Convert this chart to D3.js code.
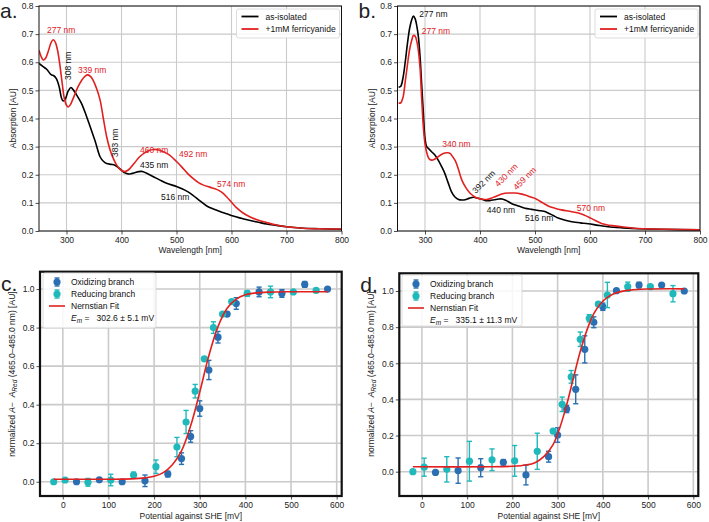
<!DOCTYPE html>
<html>
<head>
<meta charset="utf-8">
<script src="https://cdn.jsdelivr.net/npm/d3@7"></script>
<style>
  body { margin: 0; background: #fff; }
  svg { font-family: "Liberation Sans", Arial, sans-serif; }
  svg text { white-space: pre; }
  .tick text { font-size: 8.5px; fill: #222; }
</style>
</head>
<body>
<div id="chart"></div>
<script>
// ---- spectra (wavelength nm, absorption AU) ----
var specA_isolated = [[250,0.596],[257,0.585],[264,0.575],[272,0.556],[277,0.552],[282,0.54],[287,0.51],[291,0.472],[294,0.462],[298,0.47],[303,0.497],[308,0.51],[313,0.5],[318,0.485],[327,0.455],[336,0.41],[344,0.365],[352,0.32],[361,0.264],[367,0.248],[373,0.24],[381,0.237],[388,0.234],[395,0.224],[400,0.216],[406,0.207],[412,0.203],[418,0.204],[424,0.207],[431,0.211],[437,0.212],[445,0.206],[458,0.193],[470,0.181],[482,0.17],[500,0.158],[510,0.15],[521,0.139],[530,0.127],[542,0.108],[555,0.089],[567,0.078],[579,0.069],[591,0.061],[603,0.053],[618,0.045],[634,0.037],[649,0.031],[664,0.025],[682,0.02],[700,0.015],[730,0.01],[760,0.008],[800,0.006]];
var specA_ferri = [[250,0.643],[254,0.62],[258,0.608],[262,0.614],[267,0.64],[272,0.67],[276,0.68],[280,0.67],[284,0.64],[288,0.59],[292,0.528],[296,0.472],[300,0.447],[303,0.441],[307,0.449],[311,0.466],[316,0.49],[321,0.513],[328,0.537],[334,0.551],[339,0.555],[344,0.549],[348,0.537],[355,0.505],[361,0.466],[367,0.4],[373,0.335],[379,0.29],[385,0.258],[391,0.235],[397,0.22],[402,0.213],[406,0.211],[410,0.214],[415,0.222],[424,0.243],[433,0.264],[442,0.278],[450,0.286],[458,0.29],[466,0.289],[476,0.282],[484,0.274],[491,0.264],[500,0.247],[509,0.229],[520,0.205],[530,0.187],[540,0.172],[548,0.164],[560,0.156],[573,0.148],[582,0.138],[591,0.122],[600,0.102],[609,0.083],[621,0.064],[633,0.051],[648,0.039],[664,0.03],[680,0.022],[700,0.015],[730,0.01],[760,0.008],[800,0.007]];
var specB_isolated = [[252,0.511],[256,0.515],[260,0.545],[264,0.6],[268,0.665],[272,0.72],[276,0.752],[279,0.764],[282,0.755],[285,0.73],[288,0.69],[291,0.62],[294,0.52],[297,0.42],[300,0.33],[303,0.3],[307,0.292],[312,0.282],[318,0.27],[324,0.252],[330,0.23],[336,0.205],[342,0.172],[348,0.14],[354,0.122],[361,0.112],[367,0.11],[373,0.111],[380,0.116],[388,0.12],[395,0.117],[403,0.113],[410,0.108],[418,0.108],[426,0.111],[434,0.114],[440,0.114],[448,0.108],[458,0.097],[470,0.089],[482,0.081],[494,0.077],[506,0.073],[516,0.07],[524,0.064],[533,0.055],[542,0.046],[555,0.038],[567,0.033],[582,0.029],[597,0.026],[615,0.02],[633,0.015],[660,0.011],[688,0.008],[730,0.006],[800,0.004]];
var specB_ferri = [[252,0.455],[256,0.456],[260,0.475],[264,0.53],[268,0.59],[272,0.645],[276,0.679],[279,0.695],[282,0.693],[285,0.675],[288,0.64],[291,0.58],[294,0.47],[297,0.37],[300,0.31],[303,0.28],[307,0.258],[312,0.252],[318,0.256],[324,0.264],[330,0.272],[336,0.277],[341,0.278],[346,0.275],[350,0.265],[355,0.25],[361,0.218],[367,0.181],[374,0.155],[382,0.134],[390,0.122],[397,0.116],[405,0.113],[412,0.112],[420,0.116],[427,0.122],[436,0.129],[445,0.134],[455,0.135],[464,0.135],[474,0.132],[482,0.128],[492,0.121],[503,0.113],[514,0.1],[524,0.089],[536,0.081],[548,0.075],[563,0.07],[579,0.064],[588,0.058],[597,0.05],[609,0.038],[621,0.027],[640,0.019],[658,0.015],[680,0.01],[700,0.008],[740,0.006],[800,0.004]];

// ---- peak annotations [text, wavelength, absorption, colour, rotation] ----
var annotA = [["277 nm",264.5,0.704,"red",0],["308 nm",308,0.537,"black",-90],["339 nm",321,0.562,"red",0],["383 nm",394,0.263,"black",-90],["460 nm",433.6,0.277,"red",0],["492 nm",504.5,0.263,"red",0],["435 nm",433.6,0.224,"black",0],["574 nm",573.6,0.156,"red",0],["516 nm",471.8,0.11,"black",0]];
var annotB = [["277 nm",289.6,0.761,"black",0],["277 nm",294,0.70,"red",0],["340 nm",331.5,0.299,"red",0],["392 nm",392.2,0.132,"black",-45],["430 nm",433.3,0.156,"red",-45],["459 nm",466.7,0.144,"red",-45],["440 nm",412.2,0.064,"black",0],["516 nm",481.8,0.037,"black",0],["570 nm",575.8,0.072,"red",0]];

// ---- redox titrations [potential mV, normalized A, error] ----
var oxC = [[30,0.0,0],[80,0.01,0.008],[130,0.0,0],[180,0.005,0.03],[230,0.04,0.015],[260,0.12,0.03],[280,0.235,0.03],[300,0.38,0.04],[320,0.58,0.05],[340,0.75,0.03],[360,0.87,0.01],[380,0.925,0.03],[430,0.985,0.025],[480,0.977,0.02],[530,1.024,0.015],[580,1.0,0]];
var redC = [[-20,0.0,0],[5,0.009,0.008],[55,-0.003,0.02],[105,0.009,0.03],[155,0.035,0.015],[204,0.078,0.035],[250,0.18,0.05],[270,0.31,0.06],[290,0.47,0.035],[310,0.638,0],[330,0.80,0.03],[350,0.87,0],[370,0.935,0],[404,0.977,0.015],[455,0.985,0.03],[505,0.985,0],[555,0.993,0]];
var fitC = [[-20,0.013],[100,0.013],[150,0.015],[180,0.02],[200,0.028],[220,0.047],[240,0.088],[260,0.16],[280,0.29],[300,0.465],[320,0.655],[340,0.805],[360,0.9],[380,0.948],[400,0.97],[420,0.979],[450,0.984],[500,0.986],[580,0.986]];
var oxD = [[30,-0.004,0],[80,0.006,0.07],[130,0.022,0.05],[180,0.052,0.015],[230,-0.018,0.055],[280,0.083,0.03],[300,0.203,0.04],[320,0.347,0.02],[340,0.456,0.08],[360,0.677,0.075],[380,0.827,0.03],[400,0.913,0.02],[430,1.002,0],[480,1.033,0.015],[530,1.033,0],[580,1.0,0]];
var redD = [[-20,0.0,0],[5,0.025,0.05],[55,0.013,0.07],[105,0.058,0.11],[155,0.066,0.06],[205,0.06,0.085],[255,0.113,0.1],[290,0.225,0],[310,0.373,0.04],[330,0.525,0.035],[350,0.733,0.04],[370,0.849,0.02],[390,0.928,0.01],[410,0.978,0.07],[455,1.024,0.025],[505,1.024,0],[555,0.985,0.045]];
var fitD = [[-20,0.027],[150,0.027],[200,0.03],[230,0.037],[250,0.05],[270,0.085],[290,0.15],[305,0.245],[320,0.37],[335,0.52],[350,0.665],[365,0.785],[380,0.875],[395,0.93],[410,0.965],[430,0.99],[460,1.005],[500,1.011],[580,1.012]];

var specTicksX = [300,400,500,600,700,800];
var specTicksY = [0,0.1,0.2,0.3,0.4,0.5,0.6,0.7,0.8];
var titTicksX = [0,100,200,300,400,500,600];
var titTicksY = [0,0.2,0.4,0.6,0.8,1.0];

var RED = "#e0211f", OXC = "#2a6fb2", REDC = "#20b9bb";

var svg = d3.select("#chart").append("svg").attr("width", 709).attr("height", 522);

function gridAndAxes(g, x, y, tx, ty, gw) {
  g.append("g").selectAll("line.gx").data(tx).enter().append("line")
    .attr("x1", d => x(d)).attr("x2", d => x(d))
    .attr("y1", y.range()[0]).attr("y2", y.range()[1])
    .attr("stroke", "#cacaca").attr("stroke-width", gw);
  g.append("g").selectAll("line.gy").data(ty).enter().append("line")
    .attr("x1", x.range()[0]).attr("x2", x.range()[1])
    .attr("y1", d => y(d)).attr("y2", d => y(d))
    .attr("stroke", "#cacaca").attr("stroke-width", gw);

  var ax = g.append("g").attr("transform", "translate(0," + y.range()[0] + ")")
    .call(d3.axisBottom(x).tickValues(tx).tickSize(3.5).tickPadding(2).tickFormat(d3.format("d")));
  var ay = g.append("g").attr("transform", "translate(" + x.range()[0] + ",0)")
    .call(d3.axisLeft(y).tickValues(ty).tickSize(3.5).tickPadding(2).tickFormat(d3.format(".1f")));
  [ax, ay].forEach(function(a) {
    a.select(".domain").remove();
    a.selectAll(".tick line").attr("stroke", "#222").attr("stroke-width", 0.8);
  });
}

function frame(g, x, y, w) {
  g.append("rect")
    .attr("x", x.range()[0]).attr("y", y.range()[1])
    .attr("width", x.range()[1] - x.range()[0]).attr("height", y.range()[0] - y.range()[1])
    .attr("fill", "none").attr("stroke", "#111").attr("stroke-width", w);
}

function spectrumPanel(left, right, iso, ferri, annot, label) {
  var x = d3.scaleLinear().domain([250, 800]).range([left, right]);
  var y = d3.scaleLinear().domain([0, 0.8]).range([231, 6]);
  var g = svg.append("g");
  var clip = "clip" + label;
  g.append("clipPath").attr("id", clip).append("rect")
    .attr("x", left).attr("y", 6).attr("width", right - left).attr("height", 225);
  gridAndAxes(g, x, y, specTicksX, specTicksY, 1.1);

  var line = d3.line().x(d => x(d[0])).y(d => y(d[1])).curve(d3.curveCatmullRom.alpha(0.5));
  var plot = g.append("g").attr("clip-path", "url(#" + clip + ")");
  plot.append("path").datum(iso).attr("d", line).attr("fill", "none").attr("stroke", "#000").attr("stroke-width", 1.6);
  plot.append("path").datum(ferri).attr("d", line).attr("fill", "none").attr("stroke", RED).attr("stroke-width", 1.6);

  g.selectAll("text.ann").data(annot).enter().append("text")
    .attr("transform", d => "translate(" + x(d[1]) + "," + y(d[2]) + ") rotate(" + d[4] + ")")
    .attr("font-size", 8.5)
    .attr("fill", d => d[3] == "red" ? RED : "#111")
    .text(d => d[0]);

  frame(g, x, y, 1);

  // legend
  var lx = right - 105;
  var leg = g.append("g").attr("transform", "translate(" + lx + ",9)");
  leg.append("rect").attr("width", 103).attr("height", 29).attr("rx", 2)
    .attr("fill", "#fff").attr("fill-opacity", 0.85).attr("stroke", "#d4d4d4").attr("stroke-width", 0.8);
  var entries = [["as-isolated", "#000"], ["+1mM ferricyanide", RED]];
  entries.forEach(function(e, i) {
    leg.append("line").attr("x1", 5).attr("x2", 22).attr("y1", 7.5 + i * 12.5).attr("y2", 7.5 + i * 12.5)
      .attr("stroke", e[1]).attr("stroke-width", 1.8);
    leg.append("text").attr("x", 29).attr("y", 10.5 + i * 12.5).attr("font-size", 8.5).attr("fill", "#111").text(e[0]);
  });

  g.append("text").attr("x", (left + right) / 2).attr("y", 253).attr("text-anchor", "middle")
    .attr("font-size", 8.5).attr("fill", "#222").text("Wavelength [nm]");
  g.append("text").attr("transform", "translate(" + (left - 23) + ",118.5) rotate(-90)").attr("text-anchor", "middle")
    .attr("font-size", 8.5).attr("fill", "#222").text("Absorption [AU]");
  svg.append("text").attr("x", left - 39).attr("y", 18).attr("font-size", 21).attr("fill", "#222").text(label + ".");
}

function errPoints(g, data, x, y, color) {
  var pts = g.append("g").selectAll("g").data(data).enter().append("g");
  pts.filter(d => d[2] > 0).append("line")
    .attr("x1", d => x(d[0])).attr("x2", d => x(d[0]))
    .attr("y1", d => y(d[1] - d[2])).attr("y2", d => y(d[1] + d[2]))
    .attr("stroke", color).attr("stroke-width", 1.4);
  [-1, 1].forEach(function(s) {
    pts.filter(d => d[2] > 0).append("line")
      .attr("x1", d => x(d[0]) - 2.6).attr("x2", d => x(d[0]) + 2.6)
      .attr("y1", d => y(d[1] + s * d[2])).attr("y2", d => y(d[1] + s * d[2]))
      .attr("stroke", color).attr("stroke-width", 1.4);
  });
  pts.append("circle").attr("cx", d => x(d[0])).attr("cy", d => y(d[1])).attr("r", 3.6).attr("fill", color);
}

function titrationPanel(left, right, top, yDom, ox, red, fit, em, label, lg) {
  var x = d3.scaleLinear().domain([-50, 611]).range([left, right]);
  var y = d3.scaleLinear().domain(yDom).range([496, top]);
  var g = svg.append("g");
  gridAndAxes(g, x, y, titTicksX, titTicksY, 1.6);

  errPoints(g, ox, x, y, OXC);
  errPoints(g, red, x, y, REDC);
  var line = d3.line().x(d => x(d[0])).y(d => y(d[1])).curve(d3.curveCatmullRom.alpha(0.5));
  g.append("path").datum(fit).attr("d", line).attr("fill", "none").attr("stroke", RED).attr("stroke-width", 1.6);

  frame(g, x, y, 2.2);

  // legend
  var leg = g.append("g").attr("transform", "translate(" + lg[0] + "," + lg[1] + ")");
  leg.append("rect").attr("width", lg[2]).attr("height", lg[3]).attr("rx", 2)
    .attr("fill", "#fff").attr("fill-opacity", 0.85).attr("stroke", "#d4d4d4").attr("stroke-width", 0.8);
  [[OXC, "Oxidizing branch"], [REDC, "Reducing branch"]].forEach(function(e, i) {
    var cy = 9 + i * 12;
    leg.append("line").attr("x1", 14).attr("x2", 14).attr("y1", cy - 4).attr("y2", cy + 4).attr("stroke", e[0]).attr("stroke-width", 1.4);
    leg.append("line").attr("x1", 11.5).attr("x2", 16.5).attr("y1", cy - 4).attr("y2", cy - 4).attr("stroke", e[0]).attr("stroke-width", 1.4);
    leg.append("line").attr("x1", 11.5).attr("x2", 16.5).attr("y1", cy + 4).attr("y2", cy + 4).attr("stroke", e[0]).attr("stroke-width", 1.4);
    leg.append("circle").attr("cx", 14).attr("cy", cy).attr("r", 3.6).attr("fill", e[0]);
    leg.append("text").attr("x", 28).attr("y", cy + 3).attr("font-size", 8.5).attr("fill", "#111").text(e[1]);
  });
  leg.append("line").attr("x1", 6).attr("x2", 22).attr("y1", 33).attr("y2", 33).attr("stroke", RED).attr("stroke-width", 1.6);
  leg.append("text").attr("x", 28).attr("y", 36).attr("font-size", 8.5).attr("fill", "#111").text("Nernstian Fit");
  var t = leg.append("text").attr("x", 28).attr("y", 48).attr("font-size", 8.5).attr("fill", "#111");
  t.append("tspan").attr("font-style", "italic").text("E");
  t.append("tspan").attr("font-style", "italic").attr("font-size", 6.5).attr("dy", 2).text("m");
  t.append("tspan").attr("dy", -2).text(" =   " + em);

  g.append("text").attr("x", (left + right) / 2).attr("y", 519).attr("text-anchor", "middle")
    .attr("font-size", 8.5).attr("fill", "#222").text("Potential against SHE [mV]");
  var yl = g.append("text").attr("transform", "translate(" + (left - 25) + ",374) rotate(-90)").attr("text-anchor", "middle")
    .attr("font-size", 8.5).attr("fill", "#222");
  yl.append("tspan").text("normalized ");
  yl.append("tspan").attr("font-style", "italic").text("A");
  yl.append("tspan").text("\u2212  ");
  yl.append("tspan").attr("font-style", "italic").text("A");
  yl.append("tspan").attr("font-style", "italic").attr("font-size", 6.5).attr("dy", 2).text("Red");
  yl.append("tspan").attr("dy", -2).text(" (465.0\u2013485.0 nm) [AU]");
  svg.append("text").attr("x", left - 39).attr("y", top + 19).attr("font-size", 21).attr("fill", "#222").text(label + ".");
}

spectrumPanel(39, 341.5, specA_isolated, specA_ferri, annotA, "a");
spectrumPanel(397.5, 700, specB_isolated, specB_ferri, annotB, "b");
titrationPanel(40, 341.7, 271.7, [-0.074, 1.09], oxC, redC, fitC, "302.6 \u00b1 5.1 mV", "c", [43, 273, 113, 55]);
titrationPanel(399.3, 698.3, 273.3, [-0.1345, 1.098], oxD, redD, fitD, "335.1 \u00b1 11.3 mV", "d", [402, 275, 120, 51]);
</script>
</body>
</html>
